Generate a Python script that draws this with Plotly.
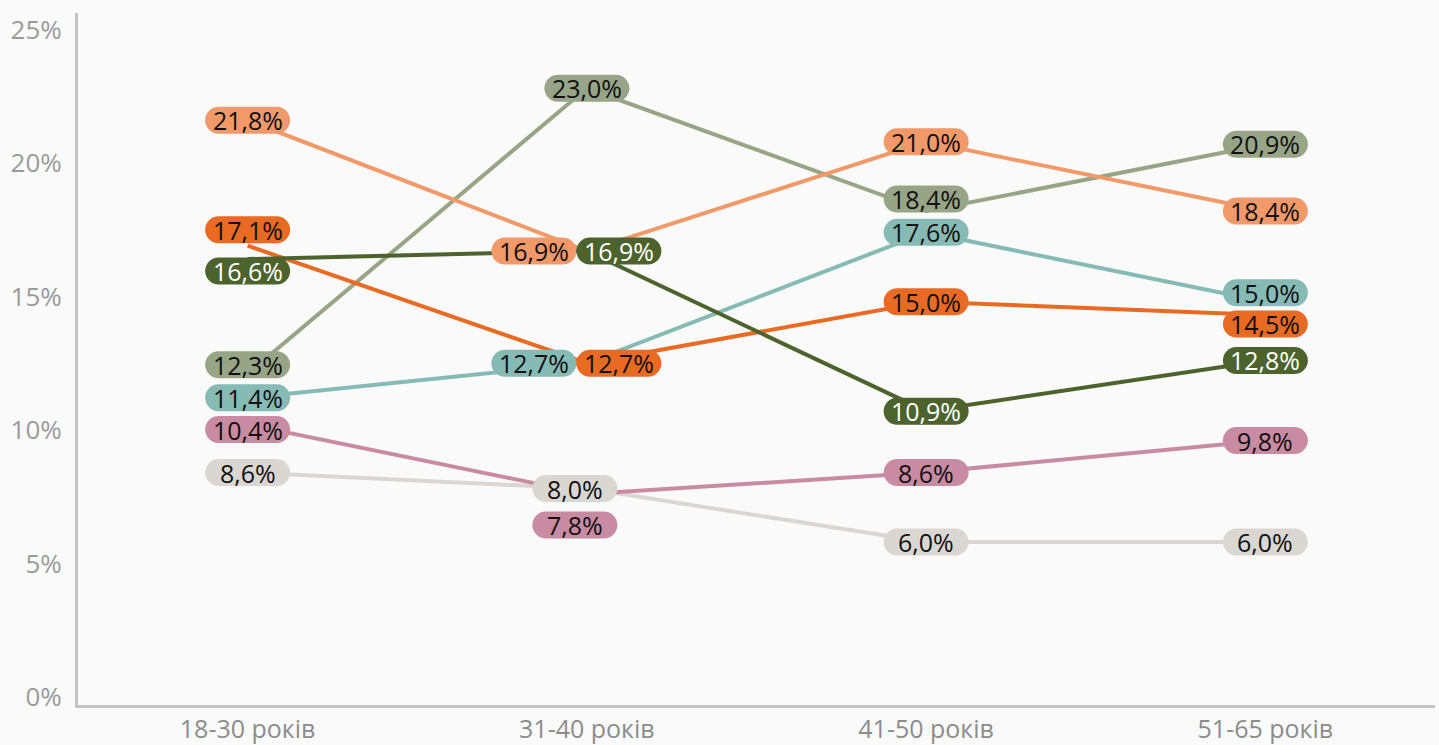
import plotly.graph_objects as go

# ---------------- data ----------------
categories = ["18-30 років", "31-40 років", "41-50 років", "51-65 років"]

light_orange = [21.8, 16.9, 21.0, 18.4]
dark_orange = [17.1, 12.7, 15.0, 14.5]
dark_green = [16.6, 16.9, 10.9, 12.8]
sage = [12.3, 23.0, 18.4, 20.9]
teal = [11.4, 12.7, 17.6, 15.0]
pink = [10.4, 7.8, 8.6, 9.8]
light_gray = [8.6, 8.0, 6.0, 6.0]

y_ticks = [0, 5, 10, 15, 20, 25]
y_tick_labels = ["0%", "5%", "10%", "15%", "20%", "25%"]

# ---------------- style ----------------
FONT = "Open Sans"
series = [
    # (name, values, color, text color)
    ("light_gray", light_gray, "#dad7d3", "#111111"),
    ("pink", pink, "#c98ba2", "#111111"),
    ("teal", teal, "#86bab5", "#111111"),
    ("sage", sage, "#97a586", "#111111"),
    ("light_orange", light_orange, "#f2996a", "#111111"),
    ("dark_orange", dark_orange, "#e96a22", "#111111"),
    ("dark_green", dark_green, "#4c632e", "#ffffff"),
]

# label offsets in pixels (dx, dy; dy positive = up) to keep pills legible
label_offsets = {
    ("dark_orange", 0): (0, 16),
    ("dark_green", 0): (0, -12),
    ("sage", 0): (0, 9),
    ("pink", 0): (0, -5),
    ("light_orange", 1): (-53, 0),
    ("dark_green", 1): (32, 0),
    ("teal", 1): (-53, 0),
    ("dark_orange", 1): (32, 0),
    ("light_gray", 1): (-12, 0),
    ("pink", 1): (-12, -31),
    ("sage", 2): (0, 12),
    ("teal", 3): (0, 9),
    ("dark_orange", 3): (0, -9),
}

PILL_W, PILL_H = 85, 27


def pill_path(dx, dy, w=PILL_W, h=PILL_H):
    r = h / 2
    k = 0.5523 * r
    lx = dx - w / 2 + r
    rx = dx + w / 2 - r
    t, b, c = dy + r, dy - r, dy
    return (
        f"M{lx},{t} L{rx},{t} "
        f"C{rx + k},{t} {rx + r},{c + k} {rx + r},{c} "
        f"C{rx + r},{c - k} {rx + k},{b} {rx},{b} "
        f"L{lx},{b} "
        f"C{lx - k},{b} {lx - r},{c - k} {lx - r},{c} "
        f"C{lx - r},{c + k} {lx - k},{t} {lx},{t} Z"
    )


x_idx = list(range(len(categories)))

fig = go.Figure()
shapes = []
annotations = []
for name, vals, color, tcolor in series:
    fig.add_trace(
        go.Scatter(
            x=x_idx,
            y=vals,
            mode="lines",
            name=name,
            line=dict(color=color, width=4),
            hovertemplate="%{y:.1f}%<extra></extra>",
        )
    )

for name, vals, color, tcolor in series:
    for i, v in enumerate(vals):
        dx, dy = label_offsets.get((name, i), (0, 0))
        shapes.append(
            dict(
                type="path",
                xref="x",
                yref="y",
                xsizemode="pixel",
                ysizemode="pixel",
                xanchor=i,
                yanchor=v,
                path=pill_path(dx, dy),
                fillcolor=color,
                line=dict(width=0),
                layer="above",
            )
        )
        annotations.append(
            dict(
                x=i,
                y=v,
                xref="x",
                yref="y",
                text=f"{v:.1f}%".replace(".", ","),
                showarrow=False,
                xshift=dx,
                yshift=dy,
                font=dict(family=FONT, size=25, color=tcolor),
                xanchor="center",
                yanchor="middle",
            )
        )

fig.update_layout(
    width=1439,
    height=745,
    margin=dict(l=78, r=4, t=13, b=40),
    paper_bgcolor="#fafafa",
    plot_bgcolor="#fafafa",
    showlegend=False,
    shapes=shapes,
    annotations=annotations,
    font=dict(family=FONT),
    xaxis=dict(
        range=[-0.5, 3.5],
        tickvals=x_idx,
        ticktext=categories,
        showline=True,
        linecolor="#c4c4c4",
        linewidth=3,
        showgrid=False,
        zeroline=False,
        ticks="",
        automargin=False,
        ticklabelstandoff=0,
        tickfont=dict(family=FONT, size=25, color="#8c8c8c"),
        fixedrange=True,
    ),
    yaxis=dict(
        range=[-0.11, 25.82],
        tickvals=y_ticks,
        ticktext=y_tick_labels,
        showline=True,
        linecolor="#c4c4c4",
        linewidth=3,
        showgrid=False,
        zeroline=False,
        ticks="",
        automargin=False,
        ticklabelstandoff=8,
        ticklabelshift=-5,
        tickfont=dict(family=FONT, size=26, color="#9a9a9a"),
        fixedrange=True,
    ),
)

fig.write_html(
    "out.html",
    config={"displayModeBar": False},
    post_script="document.body.style.margin='0';",
)
